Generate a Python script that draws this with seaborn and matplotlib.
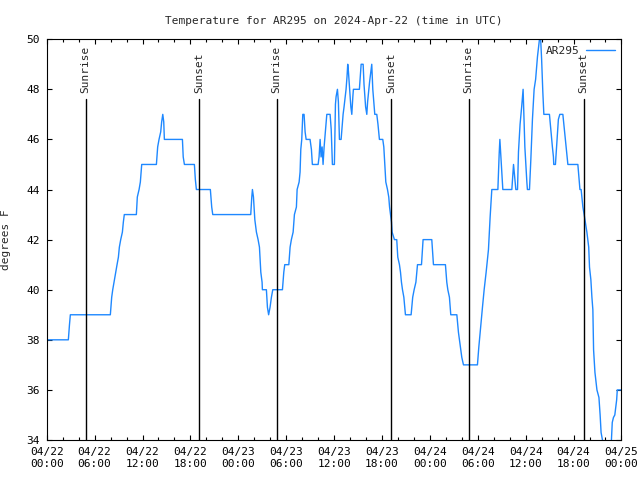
import pandas as pd
import matplotlib
matplotlib.use("Agg")
import matplotlib.pyplot as plt
import matplotlib.dates as mdates
import seaborn as sns

# temperature trace (hours since 2024-04-22 00:00 UTC, deg F)
hours = [0.0, 2.71, 2.85, 2.96, 7.97, 8.14, 8.27, 8.43, 8.64, 8.81, 8.98, 9.10, 9.27, 9.48, 9.60, 9.72,
         11.23, 11.35, 11.57, 11.73, 11.90, 13.74, 13.90, 14.07, 14.28, 14.40, 14.54, 14.66, 14.74,
         17.00, 17.10, 17.25, 18.50, 18.62, 18.75, 20.50, 20.67, 20.80, 25.56, 25.69, 25.77, 25.90,
         26.07, 26.27, 26.48, 26.65, 26.82, 26.98, 27.02, 27.52, 27.65, 27.80, 27.98, 28.15, 28.32,
         29.53, 29.70, 29.82, 30.33, 30.49, 30.65, 30.87, 31.03, 31.28, 31.37, 31.62, 31.74, 31.83,
         31.95, 32.08, 32.24, 32.37, 32.50, 32.99, 33.16, 33.28, 34.00, 34.12, 34.25, 34.37, 34.50,
         34.62, 34.75, 34.91, 35.09, 35.50, 35.64, 35.79, 36.04, 36.17, 36.25, 36.42, 36.54, 36.67,
         36.88, 37.13, 37.25, 37.50, 37.62, 37.71, 37.80, 37.95, 38.10, 38.22, 38.35, 38.42, 39.17,
         39.39, 39.64, 39.75, 39.95, 40.10, 40.20, 40.45, 40.72, 40.85, 41.10, 41.35, 41.50, 41.68,
         42.10, 42.23, 42.35, 42.48, 42.69, 42.85, 42.95, 43.19, 43.27, 43.56, 43.85, 43.98, 44.19,
         44.32, 44.44, 44.57, 44.74, 44.94, 45.65, 45.85, 46.03, 46.25, 46.45, 46.95, 47.15, 48.24,
         48.45, 49.95, 50.12, 50.25, 50.45, 50.62, 51.38, 51.58, 51.79, 52.00, 52.21, 53.96, 54.13,
         54.30, 54.59, 54.80, 55.05, 55.34, 55.55, 55.76, 56.52, 56.68, 56.77, 56.90, 57.05, 57.14,
         58.27, 58.48, 58.62, 58.77, 58.98, 59.10, 59.30, 59.50, 59.68, 59.90, 60.15, 60.22, 60.48,
         60.65, 60.85, 61.06, 61.25, 61.48, 61.73, 61.85, 62.00, 62.15, 62.28, 62.98, 63.15, 63.35,
         63.48, 63.52, 63.73, 63.90, 64.10, 64.28, 64.66, 64.85, 65.10, 65.29, 66.54, 66.67, 66.80,
         66.95, 67.17, 67.33, 67.67, 67.90, 68.00, 68.17, 68.30, 68.42, 68.51, 68.68, 68.93, 69.18,
         69.33, 69.45, 69.62, 69.85, 70.30, 70.70, 70.85, 71.00, 71.17, 71.40, 71.48, 72.00]
temps = [38, 38, 38.6, 39, 39, 39.7, 40, 40.3, 40.7, 41, 41.3, 41.7, 42, 42.3, 42.7, 43,
         43, 43.7, 44, 44.3, 45, 45, 45.7, 46, 46.3, 46.7, 47, 46.7, 46,
         46, 45.3, 45, 45, 44.4, 44, 44, 43.3, 43, 43, 43.7, 44, 43.7,
         42.8, 42.3, 42, 41.7, 40.7, 40.3, 40, 40, 39.3, 39, 39.3, 39.7, 40,
         40, 40.7, 41, 41, 41.7, 42, 42.3, 43, 43.3, 44, 44.3, 44.7, 45.6,
         46, 47, 47, 46.3, 46, 46, 45.6, 45, 45, 45.3, 46, 45.3, 45.7,
         45, 45.7, 46.3, 47, 47, 46.4, 45, 45, 47.4, 47.7, 48, 47.5, 46,
         46, 47, 47.3, 48, 48.5, 49, 48.7, 48, 47.3, 47, 47.7, 48, 48,
         49, 49, 48.2, 47.3, 47, 47.5, 48.3, 49, 48, 47, 47, 46.6, 46,
         46, 45.7, 45, 44.3, 44, 43.7, 43.3, 42.7, 42.3, 42, 42, 41.3, 41,
         40.7, 40.3, 40, 39.7, 39, 39, 39.7, 40, 40.3, 41, 41, 42, 42,
         41, 41, 40.3, 40, 39.7, 39, 39, 38.3, 37.8, 37.3, 37, 37, 37.7,
         38.3, 39.3, 40, 40.7, 41.6, 42.9, 44, 44, 45.4, 46, 45.3, 44.5, 44,
         44, 45, 44.5, 44, 44, 45.5, 46.6, 47.3, 48, 45.7, 44.3, 44, 44,
         45.2, 46.8, 48, 48.4, 49.3, 50.0, 50.2, 49.2, 47.9, 47, 47, 46.4, 45.7,
         45.3, 45, 45, 45.8, 46.8, 47, 47, 46.4, 45.6, 45, 45, 44.5, 44,
         44, 43.3, 43, 42.3, 41.7, 40.9, 40.4, 39.7, 39.2, 37.6, 36.7, 36, 35.7,
         35, 34.3, 34, 33.6, 33.4, 33.7, 34.7, 34.9, 35, 35.6, 36, 36]

sun_times = ["2024-04-22 04:52", "2024-04-22 19:08", "2024-04-23 04:48",
             "2024-04-23 19:11", "2024-04-24 04:51", "2024-04-24 19:15"]
sun_labels = ["Sunrise", "Sunset", "Sunrise", "Sunset", "Sunrise", "Sunset"]

start = pd.Timestamp("2024-04-22 00:00")
df = pd.DataFrame({"time": start + pd.to_timedelta(hours, unit="h"), "temp": temps})

sns.set_style("ticks")
plt.rcParams["font.family"] = ["DejaVu Sans Mono", "DejaVu Sans"]
plt.rcParams["font.size"] = 8

fig = plt.figure(figsize=(6.4, 4.8), dpi=100)
ax = fig.add_axes([0.073, 0.0833, 0.898, 0.835])

sns.lineplot(data=df, x="time", y="temp", ax=ax, color="#1e88ff", linewidth=1.0,
             label="AR295", estimator=None, sort=False)

for t, lab in zip(sun_times, sun_labels):
    ts = pd.Timestamp(t)
    ax.plot([ts, ts], [34, 47.6], color="black", linewidth=1.0)
    ax.text(ts, 47.85, lab, rotation=90, ha="center", va="bottom", fontsize=8)

ax.set_xlim(start, start + pd.Timedelta(hours=72))
ax.set_ylim(34, 50)
ax.set_yticks(range(34, 51, 2))
ax.xaxis.set_major_locator(mdates.HourLocator(byhour=range(0, 24, 6)))
ax.xaxis.set_minor_locator(mdates.HourLocator(byhour=range(0, 24, 2)))
ax.xaxis.set_major_formatter(mdates.DateFormatter("%m/%d\n%H:%M"))

for sp in ax.spines.values():
    sp.set_visible(True)
    sp.set_linewidth(0.8)
    sp.set_color("black")
ax.tick_params(which="both", direction="in", top=True, right=True, colors="black",
               labelsize=8, width=0.8)
ax.tick_params(which="major", length=3.5, pad=5)
ax.tick_params(which="minor", length=2)

ax.set_xlabel("")
ax.set_ylabel("degrees F", fontsize=8)
ax.yaxis.set_label_coords(-0.063, 0.5)
ax.set_title("Temperature for AR295 on 2024-Apr-22 (time in UTC)", fontsize=8, pad=11)

leg = ax.legend(loc="upper right", frameon=False, markerfirst=False, handlelength=2.6,
                borderaxespad=0.2, handletextpad=0.6, fontsize=8)

plt.savefig("out.png", dpi=100)
